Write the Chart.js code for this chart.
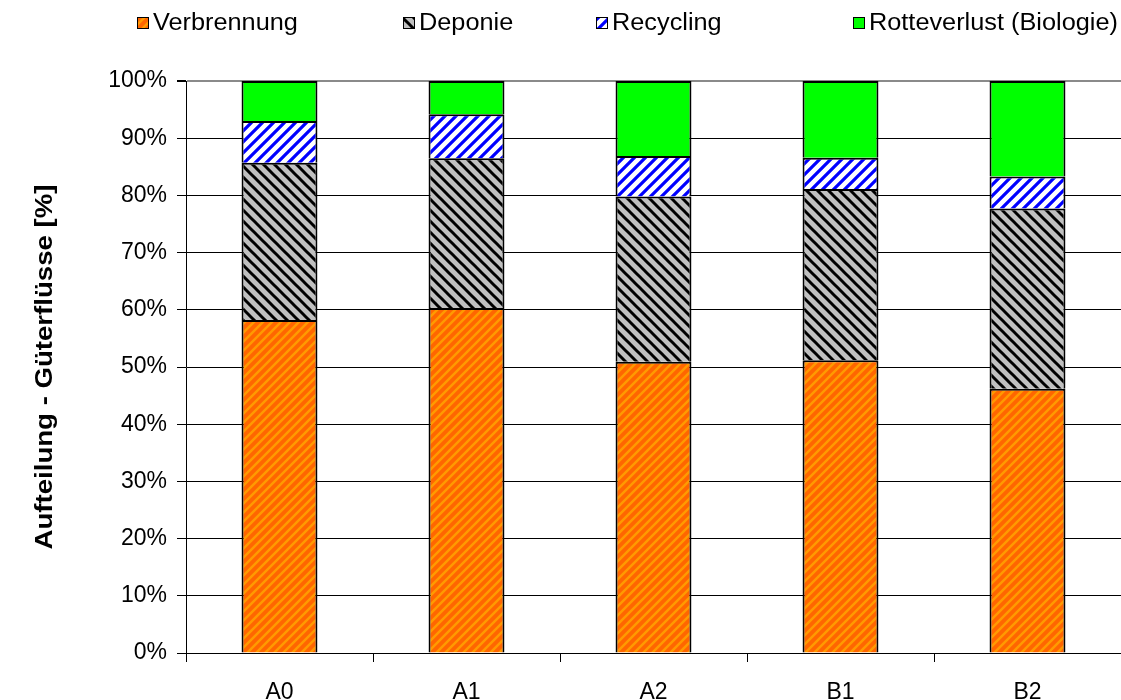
<!DOCTYPE html>
<html>
<head>
<meta charset="utf-8">
<script src="https://cdn.jsdelivr.net/npm/chart.js@4.4.1/dist/chart.umd.min.js"></script>
<style>
  html, body { margin: 0; padding: 0; background: #fff; }
  #wrap { width: 1121px; height: 700px; position: relative; }
</style>
</head>
<body>
<div id="wrap"><canvas id="c" width="1121" height="700"></canvas></div>
<script>
// Scenarios and shares of material flows (percent of total)
const categories = ['A0', 'A1', 'A2', 'B1', 'B2'];
const verbrennung = [58.2, 60.3, 50.9, 51.2, 46.2];
const deponie = [27.5, 26.2, 28.9, 29.9, 31.5];
const recycling = [7.3, 7.7, 7.1, 5.5, 5.6];
const rotteverlust = [7.0, 5.8, 13.1, 13.4, 16.7];
const yTicks = [0, 10, 20, 30, 40, 50, 60, 70, 80, 90, 100];
const yTitle = 'Aufteilung - Güterflüsse [%]';

const FONT = '"Liberation Sans", Arial, sans-serif';

// Diagonal hatch fill: dir 1 = "/", dir -1 = "\"
function hatch(bg, fg, period, width, dir) {
  const c = document.createElement('canvas');
  c.width = period; c.height = period;
  const g = c.getContext('2d');
  g.fillStyle = bg;
  g.fillRect(0, 0, period, period);
  g.strokeStyle = fg;
  g.lineWidth = width;
  g.lineCap = 'square';
  const p = period;
  const segs = dir > 0
    ? [[-p, p, p, -p], [0, p, p, 0], [0, 2 * p, 2 * p, 0]]
    : [[-p, 0, p, 2 * p], [0, 0, p, p], [0, -p, 2 * p, p]];
  segs.forEach(s => { g.beginPath(); g.moveTo(s[0], s[1]); g.lineTo(s[2], s[3]); g.stroke(); });
  return g.createPattern(c, 'repeat');
}

const ctx = document.getElementById('c').getContext('2d');
const fillVerbrennung = hatch('#FF6600', '#FF9A00', 9, 2.5, 1);
const fillDeponie = hatch('#C0C0C0', '#000000', 11, 3, -1);
const fillRecycling = hatch('#FFFFFF', '#0000FF', 11, 3.2, 1);
const fillRotte = '#00FF00';

// Legend row across the top (left edge of each key box) and the rotated axis title
const legendX = [137, 403, 596, 853];
const decorations = {
  id: 'decorations',
  afterDraw(chart) {
    const g = chart.ctx;
    g.save();
    g.font = '23px ' + FONT;
    g.textBaseline = 'middle';
    const y = 23;
    chart.data.datasets.forEach((ds, i) => {
      const x = legendX[i];
      g.fillStyle = ds.backgroundColor;
      g.fillRect(x, y - 6, 12, 12);
      g.strokeStyle = '#000';
      g.lineWidth = 1;
      g.strokeRect(x + 0.5, y - 5.5, 11, 11);
      g.fillStyle = '#000';
      g.save();
      g.translate(x + 16, y + 1);
      g.scale(1.1, 1);
      g.fillText(ds.label, 0, 0);
      g.restore();
    });
    g.restore();

    // axis title, centred on the plot's vertical extent
    const area = chart.chartArea;
    g.save();
    g.font = 'bold 23px ' + FONT;
    g.fillStyle = '#000';
    g.textAlign = 'center';
    g.textBaseline = 'middle';
    g.translate(46, (area.top + area.bottom) / 2);
    g.rotate(-Math.PI / 2);
    g.scale(1.2, 1);
    g.fillText(yTitle, 0, 0);
    g.restore();
  }
};

const common = { borderColor: '#000', borderWidth: 2, borderSkipped: 'bottom',
  barPercentage: 0.406, categoryPercentage: 1.0 };

new Chart(ctx, {
  type: 'bar',
  data: {
    labels: categories,
    datasets: [
      Object.assign({ label: 'Verbrennung', data: verbrennung, backgroundColor: fillVerbrennung }, common),
      Object.assign({ label: 'Deponie', data: deponie, backgroundColor: fillDeponie }, common),
      Object.assign({ label: 'Recycling', data: recycling, backgroundColor: fillRecycling }, common),
      Object.assign({ label: 'Rotteverlust (Biologie)', data: rotteverlust, backgroundColor: fillRotte }, common)
    ]
  },
  options: {
    responsive: false,
    animation: false,
    devicePixelRatio: 1,
    layout: { padding: { left: 30, top: 81, right: 0, bottom: 0 } },
    plugins: {
      legend: { display: false },
      tooltip: { enabled: false }
    },
    scales: {
      x: {
        stacked: true,
        offset: true,
        grid: { offset: true, drawOnChartArea: false, color: '#000', tickLength: 9, tickColor: '#000' },
        border: { color: '#000', width: 1 },
        ticks: { color: '#000', font: { family: FONT, size: 23 }, padding: 17 },
        afterFit(scale) { scale.height = 47; }
      },
      y: {
        stacked: true,
        min: 0,
        max: 100,
        afterBuildTicks(scale) { scale.ticks = yTicks.map(v => ({ value: v })); },
        grid: {
          color: c => (c.tick && c.tick.value === 100) ? '#8a8a8a' : '#000',
          lineWidth: c => (c.tick && c.tick.value === 100) ? 2 : 1,
          tickLength: 9,
          tickColor: '#000'
        },
        border: { color: '#000', width: 1 },
        ticks: {
          color: '#000',
          font: { family: FONT, size: 23 },
          padding: 10,
          callback: v => v + '%'
        },
        afterFit(scale) { scale.width = 156; }
      }
    }
  },
  plugins: [decorations]
});
</script>
</body>
</html>
